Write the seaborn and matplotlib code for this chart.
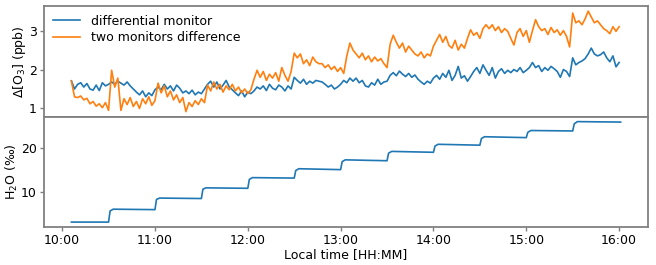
import numpy as np
import pandas as pd
import seaborn as sns
import matplotlib.pyplot as plt
import matplotlib.dates as mdates

# O3 series, one value every 2 minutes starting 10:06
o3_start = "2020-01-01 10:06"
diff_monitor = [
    1.71, 1.50, 1.62, 1.66, 1.55, 1.64, 1.50, 1.47, 1.60, 1.46, 1.66, 1.58, 1.62,
    1.68, 1.62, 1.70, 1.65, 1.60, 1.68, 1.58, 1.50,
    1.42, 1.35, 1.45, 1.30, 1.40, 1.33, 1.48,
    1.55, 1.48, 1.62, 1.50, 1.58, 1.45, 1.60, 1.52, 1.40,
    1.45, 1.38, 1.47, 1.35, 1.42, 1.38, 1.50,
    1.62, 1.70, 1.55, 1.68, 1.50, 1.60, 1.72, 1.55, 1.48,
    1.40, 1.33, 1.45, 1.30, 1.42, 1.38, 1.45, 1.55,
    1.50, 1.58, 1.46, 1.62, 1.52, 1.48, 1.60, 1.55, 1.45, 1.58, 1.50, 1.80,
    1.72, 1.65, 1.75, 1.62, 1.70, 1.65, 1.72, 1.70,
    1.68, 1.62, 1.55, 1.60, 1.50, 1.55, 1.62, 1.72, 1.66, 1.78,
    1.70, 1.78, 1.66, 1.72, 1.58, 1.55, 1.66, 1.60, 1.75, 1.62, 1.68, 1.70,
    1.85, 1.92, 1.84, 1.96, 1.88, 1.82, 1.90, 1.80, 1.86, 1.75,
    1.68, 1.62, 1.70, 1.65, 1.78,
    1.85, 1.75, 1.90, 1.80, 1.98, 1.72, 1.85, 2.08, 1.78, 1.84, 1.70, 1.82,
    1.95, 2.05, 1.90, 2.12, 1.98,
    1.85, 2.05, 1.78, 1.95, 2.02, 1.90, 1.98, 1.92,
    2.00, 1.95, 2.05, 1.92, 1.98, 2.05, 2.18,
    2.05, 2.10, 1.95, 2.05, 1.98, 2.08, 2.02, 1.95, 1.80, 2.00, 1.95, 1.82,
    2.30, 2.12, 2.18, 2.22, 2.28, 2.40,
    2.55, 2.40, 2.35, 2.38, 2.45, 2.30, 2.20, 2.35, 2.07, 2.18,
]
two_monitors = [
    1.70, 1.30, 1.28, 1.32, 1.22, 1.26, 1.12, 1.18, 1.06, 1.12, 1.02, 1.15, 0.95,
    1.98, 1.55, 1.78, 0.95, 1.25, 1.10, 1.28, 1.05,
    1.18, 1.00, 1.25, 1.12, 1.30, 1.08, 1.20,
    1.65, 1.40, 1.58, 1.30, 1.45, 1.22, 1.35, 1.15, 1.28,
    0.92, 1.15, 1.05, 1.20, 1.10, 1.25, 1.15,
    1.60, 1.45, 1.68, 1.50, 1.62, 1.42, 1.58, 1.48, 1.62,
    1.45, 1.55, 1.40, 1.50, 1.38, 1.48, 1.75, 1.98,
    1.80, 1.95, 1.72, 1.88, 1.78, 1.92, 1.70, 2.05, 1.85, 1.70, 1.95, 2.42,
    2.30, 2.40, 2.15, 2.25, 2.10, 2.32, 2.20, 2.15,
    2.15, 2.05, 2.12, 2.00, 2.08, 1.95, 2.05, 1.90, 2.35, 2.68,
    2.50, 2.40, 2.30, 2.42, 2.25, 2.35, 2.20, 2.32, 2.22, 2.28, 2.15, 2.05,
    2.65, 2.88, 2.70, 2.55, 2.68, 2.45, 2.60, 2.50, 2.40, 2.35,
    2.45, 2.30, 2.40, 2.35, 2.60,
    2.75, 2.90, 2.70, 2.85, 2.62, 2.55, 2.75, 2.50, 2.65, 2.55, 2.80, 3.02,
    2.88, 2.95, 2.80, 3.05, 3.15,
    3.05, 3.15, 3.00, 3.10, 2.95, 3.05, 2.98, 2.80,
    2.63, 2.95, 3.05, 2.85, 3.00, 2.70, 3.00,
    3.28, 3.10, 3.00, 3.05, 2.90, 3.08, 2.95, 3.02, 2.88, 3.00, 2.85, 2.58,
    3.45, 3.20, 3.25, 3.15, 3.30, 3.50,
    3.35, 3.20, 3.25, 3.15, 3.05, 3.00, 2.92, 3.10, 2.98, 3.10,
]

# H2O steps
h2o_times = [
    "10:06", "10:30", "10:31", "10:33", "11:00", "11:01", "11:03", "11:30",
    "11:31", "11:33", "12:00", "12:01", "12:03", "12:30", "12:31", "12:33",
    "13:00", "13:01", "13:03", "13:30", "13:31", "13:33", "14:00", "14:01",
    "14:03", "14:30", "14:31", "14:33", "15:00", "15:01", "15:03", "15:30",
    "15:31", "15:33", "16:01",
]
h2o_values = [
    3.3, 3.3, 5.8, 6.2, 6.1, 8.4, 8.7, 8.6,
    10.7, 11.0, 10.9, 12.9, 13.3, 13.2, 14.9, 15.3,
    15.1, 16.9, 17.3, 17.1, 18.8, 19.2, 19.0, 20.4,
    20.8, 20.6, 22.1, 22.5, 22.3, 23.5, 23.9, 23.8,
    25.4, 25.9, 25.8,
]

FS = 9


def build_frames():
    t = pd.date_range(o3_start, periods=len(diff_monitor), freq="2min")
    o3 = pd.concat([
        pd.DataFrame({"time": t, "value": diff_monitor, "series": "differential monitor"}),
        pd.DataFrame({"time": t, "value": two_monitors, "series": "two monitors difference"}),
    ])
    h2o = pd.DataFrame({
        "time": pd.to_datetime(["2020-01-01 " + s for s in h2o_times]),
        "value": h2o_values,
    })
    return o3, h2o


def style_axis(ax):
    for sp in ax.spines.values():
        sp.set_color("#808080")
        sp.set_linewidth(1.3)
    ax.tick_params(labelcolor="black", labelsize=FS, width=1.0, length=3,
                   pad=2, color="#808080")


def main():
    o3, h2o = build_frames()
    fig, (ax1, ax2) = plt.subplots(2, 1, sharex=True, figsize=(6.56, 2.65), dpi=100)
    fig.subplots_adjust(left=0.067, right=0.988, top=0.977, bottom=0.143, hspace=0)

    sns.lineplot(data=o3, x="time", y="value", hue="series",
                 palette=["#1f77b4", "#ff7f0e"], linewidth=1.2, ax=ax1)
    ax1.set_ylabel(r"$\Delta$[O$_3$] (ppb)", fontsize=FS, labelpad=1)
    ax1.set_xlabel("")
    ax1.set_yticks([1, 2, 3])
    ax1.legend(loc="upper left", frameon=False, fontsize=FS,
               borderaxespad=0.3, handlelength=2.2, handletextpad=0.9,
               labelspacing=0.25)

    sns.lineplot(data=h2o, x="time", y="value", color="#1f77b4", linewidth=1.2, ax=ax2)
    ax2.set_ylabel("H$_2$O (‰)", fontsize=FS, labelpad=1)
    ax2.set_xlabel("Local time [HH:MM]", fontsize=FS, labelpad=1)
    ax2.set_yticks([10, 20])
    ax2.xaxis.set_major_locator(mdates.HourLocator())
    ax2.xaxis.set_major_formatter(mdates.DateFormatter("%H:%M"))

    for ax in (ax1, ax2):
        style_axis(ax)

    fig.savefig("out.png", dpi=100)


if __name__ == "__main__":
    main()
